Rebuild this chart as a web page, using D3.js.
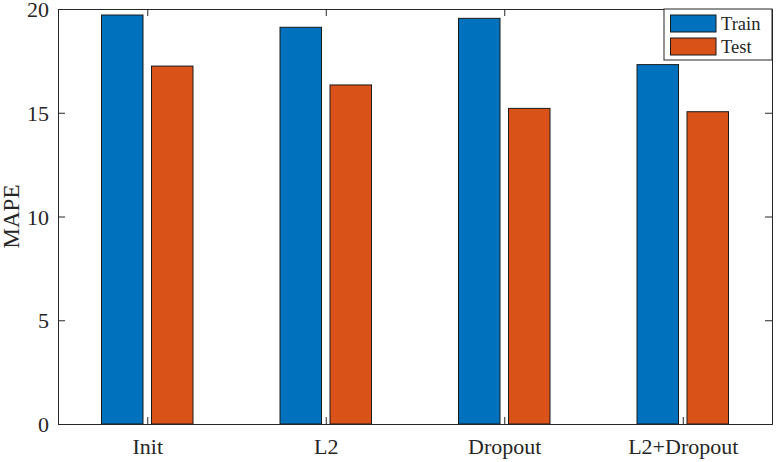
<!DOCTYPE html>
<html><head><meta charset="utf-8">
<script src="https://cdn.jsdelivr.net/npm/d3@7"></script>
<style>body{margin:0;background:#fff}svg{display:block}svg text{font-family:"Liberation Serif","DejaVu Serif",serif !important;fill:#262626}</style>
</head><body><svg id="c" width="777" height="462" font-family="Liberation Serif"></svg>
<script>
const categories = ["Init", "L2", "Dropout", "L2+Dropout"];
const seriesNames = ["Train", "Test"];
const trainValues = [19.71, 19.12, 19.55, 17.32];
const testValues = [17.25, 16.34, 15.21, 15.05];
const yTicks = [0, 5, 10, 15, 20];
const colors = ["#0072BD", "#D95319"];

const svg = d3.select("#c");
const L = 58, R = 772, T = 9, B = 424;
const x = d3.scaleLinear().domain([0.5, categories.length + 0.5]).range([L, R]);
const y = d3.scaleLinear().domain([0, 20]).range([B, T]);
const axisColor = "#262626";
const barW = 41.5, off = 25;

// bars
const series = [trainValues, testValues];
series.forEach((vals, s) => {
  svg.append("g").selectAll("rect").data(vals).join("rect")
    .attr("x", (d, i) => x(i + 1) + (s === 0 ? -off : off) - barW / 2)
    .attr("y", d => y(d))
    .attr("width", barW)
    .attr("height", d => y(0) - y(d))
    .attr("fill", colors[s])
    .attr("stroke", "#1a1a1a")
    .attr("stroke-width", 1);
});

// axes
const fs = 22;
const yAxis = d3.axisLeft(y).tickValues(yTicks).tickSize(-7).tickFormat(d3.format("d"));
const gy = svg.append("g").attr("transform", `translate(${L},0)`).call(yAxis);
gy.selectAll("text").style("font-size", fs + "px").attr("x", -9).attr("dy", "0.35em");
const yAxisR = d3.axisRight(y).tickValues(yTicks).tickSize(-7).tickFormat("");
svg.append("g").attr("transform", `translate(${R},0)`).call(yAxisR);

const xAxis = d3.axisBottom(x).tickValues(d3.range(1, categories.length + 1)).tickSize(-7).tickFormat((d, i) => categories[i]);
const gx = svg.append("g").attr("transform", `translate(0,${B})`).call(xAxis);
gx.selectAll("text").style("font-size", fs + "px").attr("y", 30).attr("dy", 0);
const xAxisT = d3.axisTop(x).tickValues(d3.range(1, categories.length + 1)).tickSize(-7).tickFormat("");
svg.append("g").attr("transform", `translate(0,${T})`).call(xAxisT);

svg.selectAll("g").attr("font-family", null);
svg.selectAll(".domain").attr("stroke", axisColor);
svg.selectAll(".tick line").attr("stroke", axisColor);
svg.selectAll(".tick text").attr("fill", axisColor);

// y label
svg.append("text").attr("transform", `translate(19,${(T + B) / 2}) rotate(-90)`)
  .attr("text-anchor", "middle").style("font-size", "23px").text("MAPE");

// legend
const lg = svg.append("g");
lg.append("rect").attr("x", 664).attr("y", T).attr("width", R - 664).attr("height", 51)
  .attr("fill", "#fff").attr("stroke", axisColor).attr("stroke-width", 1);
seriesNames.forEach((n, i) => {
  lg.append("rect").attr("x", 670.5).attr("y", 15 + i * 23).attr("width", 45.5).attr("height", 17)
    .attr("fill", colors[i]).attr("stroke", "#1a1a1a");
  lg.append("text").attr("x", 721).attr("y", 29.5 + i * 23).style("font-size", "18.5px").text(n);
});
</script></body></html>
